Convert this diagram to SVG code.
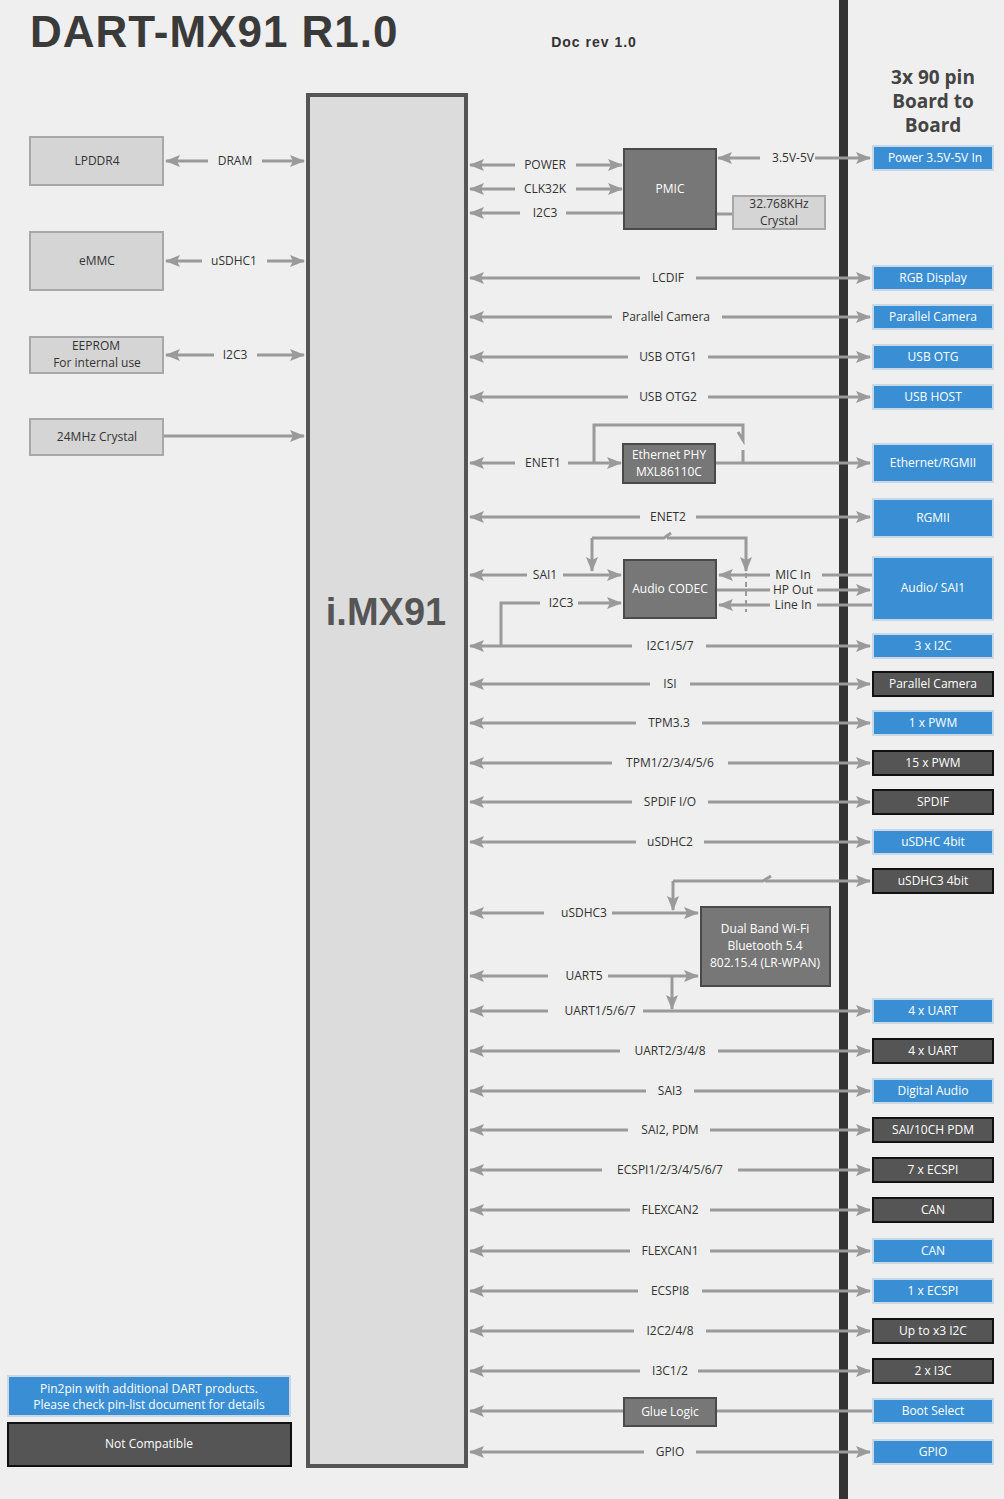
<svg xmlns="http://www.w3.org/2000/svg" width="1004" height="1499" viewBox="0 0 1004 1499">
<style>
text{font-family:"Open Sans","Liberation Sans",sans-serif;font-size:12px;text-anchor:middle;fill:#333}
.w{fill:#fff}
.c{stroke:#9a9a9a;stroke-width:3;fill:none}
.a{marker-end:url(#ar)}
.b{fill:#3a8fd4;stroke:#c8d8e8;stroke-width:2}
.d{fill:#555;stroke:#111;stroke-width:2}
.g{fill:#d5d5d5;stroke:#a8a8a8;stroke-width:2}
.m{fill:#777;stroke:#4a4a4a;stroke-width:2}
</style>
<defs>
<marker id="ar" markerUnits="userSpaceOnUse" markerWidth="16" markerHeight="14" refX="14" refY="7" orient="auto"><path d="M0,1 L15,7 L0,13 L3,7 Z" fill="#9a9a9a"/></marker>
</defs>
<rect width="1004" height="1499" fill="#efefef"/>
<rect x="839" y="0" width="9" height="1499" fill="#333"/>
<text x="30" y="47" style="font-family:'Liberation Sans',sans-serif;font-size:44px;font-weight:bold;text-anchor:start;fill:#3a3a3a;letter-spacing:1px">DART-MX91 R1.0</text>
<text x="594" y="47" style="font-family:'Liberation Sans',sans-serif;font-size:14px;font-weight:bold;letter-spacing:1px">Doc rev 1.0</text>
<g style="font-size:19px;font-weight:bold"><text x="933" y="84" style="font-size:19px;font-weight:bold;fill:#444">3x 90 pin</text><text x="933" y="108" style="font-size:19px;font-weight:bold;fill:#444">Board to</text><text x="933" y="132" style="font-size:19px;font-weight:bold;fill:#444">Board</text></g>
<g id="imx91"><rect x="308" y="95" width="158" height="1371" fill="#dcdcdc" stroke="#555" stroke-width="4"/><text x="386" y="625" style="font-family:'Liberation Sans',sans-serif;font-size:38px;font-weight:bold;fill:#555">i.MX91</text></g>

<g id="connectors">
<path class="c a" d="M208,161H166"/><path class="c a" d="M262,161H304"/>
<path class="c a" d="M202,261H166"/><path class="c a" d="M267,261H304"/>
<path class="c a" d="M214,355H166"/><path class="c a" d="M257,355H304"/>
<path class="c a" d="M163,436H304"/>
<path class="c a" d="M515,165H470"/><path class="c a" d="M576,165H622"/>
<path class="c a" d="M515,189H470"/><path class="c a" d="M576,189H622"/>
<path class="c a" d="M520,213H470"/><path class="c" d="M566,213H624"/>
<path class="c a" d="M760,158H718"/><path class="c a" d="M815,158H870"/>
<path class="c" d="M716,214H733"/>
<path class="c a" d="M640,278H470"/><path class="c a" d="M696,278H870"/>
<path class="c a" d="M612,317H470"/><path class="c a" d="M722,317H870"/>
<path class="c a" d="M628,357H470"/><path class="c a" d="M708,357H870"/>
<path class="c a" d="M628,397H470"/><path class="c a" d="M708,397H870"/>
<path class="c a" d="M515,463H470"/><path class="c a" d="M568,463H621"/>
<path class="c" d="M594,463V425H743V440L738,432M743,450V463"/>
<path class="c a" d="M715,463H870"/>
<path class="c a" d="M640,517H470"/><path class="c a" d="M696,517H870"/>
<path class="c a" d="M592,538V571"/><path class="c" d="M592,538H664L671,533"/><path class="c a" d="M667,538H746V571"/>
<path d="M746,573V612" stroke="#9a9a9a" stroke-width="2" stroke-dasharray="5,4" fill="none"/>
<path class="c a" d="M527,575H470"/><path class="c a" d="M563,575H621"/>
<path class="c" d="M540,603H501V646"/><path class="c a" d="M578,603H621"/>
<path class="c a" d="M770,575H719"/><path class="c" d="M822,575H873"/>
<path class="c" d="M716,590H770"/><path class="c a" d="M817,590H870"/>
<path class="c a" d="M770,605H719"/><path class="c" d="M817,605H873"/>
<path class="c a" d="M632,646H470"/><path class="c a" d="M706,646H870"/>
<path class="c a" d="M650,684H470"/><path class="c a" d="M690,684H870"/>
<path class="c a" d="M636,723H470"/><path class="c a" d="M702,723H870"/>
<path class="c a" d="M612,763H470"/><path class="c a" d="M728,763H870"/>
<path class="c a" d="M632,802H470"/><path class="c a" d="M708,802H870"/>
<path class="c a" d="M636,842H470"/><path class="c a" d="M704,842H870"/>
<path class="c a" d="M673,881V910"/><path class="c" d="M673,881H763L771,876"/><path class="c a" d="M765,881H870"/>
<path class="c a" d="M544,913H470"/><path class="c a" d="M612,913H698"/>
<path class="c a" d="M548,976H470"/><path class="c a" d="M608,976H698"/>
<path class="c a" d="M672,976V1009"/>
<path class="c a" d="M548,1011H470"/><path class="c a" d="M643,1011H870"/>
<path class="c a" d="M620,1051H470"/><path class="c a" d="M718,1051H870"/>
<path class="c a" d="M646,1091H470"/><path class="c a" d="M694,1091H870"/>
<path class="c a" d="M628,1130H470"/><path class="c a" d="M710,1130H870"/>
<path class="c a" d="M602,1170H470"/><path class="c a" d="M738,1170H870"/>
<path class="c a" d="M630,1210H470"/><path class="c a" d="M710,1210H870"/>
<path class="c a" d="M630,1251H470"/><path class="c a" d="M710,1251H870"/>
<path class="c a" d="M638,1291H470"/><path class="c a" d="M702,1291H870"/>
<path class="c a" d="M634,1331H470"/><path class="c a" d="M706,1331H870"/>
<path class="c a" d="M640,1371H470"/><path class="c a" d="M698,1371H870"/>
<path class="c a" d="M624,1411H470"/><path class="c" d="M716,1411H873"/>
<path class="c a" d="M644,1452H470"/><path class="c a" d="M696,1452H870"/>
</g>
<g id="labels">
<text x="235" y="165">DRAM</text><text x="234" y="265">uSDHC1</text><text x="235" y="359">I2C3</text>
<text x="545" y="169">POWER</text><text x="545" y="193">CLK32K</text><text x="545" y="217">I2C3</text><text x="793" y="162">3.5V-5V</text>
<text x="668" y="282">LCDIF</text><text x="666" y="321">Parallel Camera</text><text x="668" y="361">USB OTG1</text><text x="668" y="401">USB OTG2</text>
<text x="543" y="467">ENET1</text><text x="668" y="521">ENET2</text>
<text x="545" y="579">SAI1</text><text x="561" y="607">I2C3</text>
<text x="793" y="579">MIC In</text><text x="793" y="594">HP Out</text><text x="793" y="609">Line In</text>
<text x="670" y="650">I2C1/5/7</text><text x="670" y="688">ISI</text><text x="669" y="727">TPM3.3</text><text x="670" y="767">TPM1/2/3/4/5/6</text>
<text x="670" y="806">SPDIF I/O</text><text x="670" y="846">uSDHC2</text>
<text x="584" y="917">uSDHC3</text><text x="584" y="980">UART5</text><text x="600" y="1015">UART1/5/6/7</text>
<text x="670" y="1055">UART2/3/4/8</text><text x="670" y="1095">SAI3</text><text x="670" y="1134">SAI2, PDM</text>
<text x="670" y="1174">ECSPI1/2/3/4/5/6/7</text><text x="670" y="1214">FLEXCAN2</text><text x="670" y="1255">FLEXCAN1</text>
<text x="670" y="1295">ECSPI8</text><text x="670" y="1335">I2C2/4/8</text><text x="670" y="1375">I3C1/2</text><text x="670" y="1456">GPIO</text>
</g>
<g id="lpddr4"><rect class="g" x="30" y="137" width="133" height="48"/><text x="97" y="165">LPDDR4</text></g>
<g id="emmc"><rect class="g" x="30" y="232" width="133" height="58"/><text x="97" y="265">eMMC</text></g>
<g id="eeprom"><rect class="g" x="30" y="337" width="133" height="36"/><text x="96" y="350">EEPROM</text><text x="97" y="367">For internal use</text></g>
<g id="xtal24"><rect class="g" x="30" y="419" width="133" height="36"/><text x="97" y="441">24MHz Crystal</text></g>
<g id="pmic"><rect class="m" x="624" y="149" width="92" height="80"/><text class="w" x="670" y="193">PMIC</text></g>
<g id="xtal32"><rect class="g" x="733" y="196" width="92" height="33"/><text x="779" y="208">32.768KHz</text><text x="779" y="225">Crystal</text></g>
<g id="ethphy"><rect class="m" x="623" y="444" width="92" height="39"/><text class="w" x="669" y="459">Ethernet PHY</text><text class="w" x="669" y="476">MXL86110C</text></g>
<g id="codec"><rect class="m" x="624" y="560" width="92" height="58"/><text class="w" x="670" y="593">Audio CODEC</text></g>
<g id="wifi"><rect class="m" x="701" y="907" width="129" height="79"/><text class="w" x="765" y="933">Dual Band Wi-Fi</text><text class="w" x="765" y="950">Bluetooth 5.4</text><text class="w" x="765" y="967">802.15.4 (LR-WPAN)</text></g>
<g id="glue"><rect class="m" x="624" y="1398" width="92" height="28"/><text class="w" x="670" y="1416">Glue Logic</text></g>
<g id="right">
<rect class="b" x="873" y="146" width="120" height="24"/><text class="w" x="935" y="162">Power 3.5V-5V In</text>
<rect class="b" x="873" y="266" width="120" height="24"/><text class="w" x="933" y="282">RGB Display</text>
<rect class="b" x="873" y="305" width="120" height="24"/><text class="w" x="933" y="321">Parallel Camera</text>
<rect class="b" x="873" y="345" width="120" height="24"/><text class="w" x="933" y="361">USB OTG</text>
<rect class="b" x="873" y="385" width="120" height="24"/><text class="w" x="933" y="401">USB HOST</text>
<rect class="b" x="873" y="444" width="120" height="38"/><text class="w" x="933" y="467">Ethernet/RGMII</text>
<rect class="b" x="873" y="499" width="120" height="38"/><text class="w" x="933" y="522">RGMII</text>
<rect class="b" x="873" y="557" width="120" height="63"/><text class="w" x="933" y="592">Audio/ SAI1</text>
<rect class="b" x="873" y="634" width="120" height="24"/><text class="w" x="933" y="650">3 x I2C</text>
<rect class="d" x="873" y="672" width="120" height="24"/><text class="w" x="933" y="688">Parallel Camera</text>
<rect class="b" x="873" y="711" width="120" height="24"/><text class="w" x="933" y="727">1 x PWM</text>
<rect class="d" x="873" y="751" width="120" height="24"/><text class="w" x="933" y="767">15 x PWM</text>
<rect class="d" x="873" y="790" width="120" height="24"/><text class="w" x="933" y="806">SPDIF</text>
<rect class="b" x="873" y="830" width="120" height="24"/><text class="w" x="933" y="846">uSDHC 4bit</text>
<rect class="d" x="873" y="869" width="120" height="24"/><text class="w" x="933" y="885">uSDHC3 4bit</text>
<rect class="b" x="873" y="999" width="120" height="24"/><text class="w" x="933" y="1015">4 x UART</text>
<rect class="d" x="873" y="1039" width="120" height="24"/><text class="w" x="933" y="1055">4 x UART</text>
<rect class="b" x="873" y="1079" width="120" height="24"/><text class="w" x="933" y="1095">Digital Audio</text>
<rect class="d" x="873" y="1118" width="120" height="24"/><text class="w" x="933" y="1134">SAI/10CH PDM</text>
<rect class="d" x="873" y="1158" width="120" height="24"/><text class="w" x="933" y="1174">7 x ECSPI</text>
<rect class="d" x="873" y="1198" width="120" height="24"/><text class="w" x="933" y="1214">CAN</text>
<rect class="b" x="873" y="1239" width="120" height="24"/><text class="w" x="933" y="1255">CAN</text>
<rect class="b" x="873" y="1279" width="120" height="24"/><text class="w" x="933" y="1295">1 x ECSPI</text>
<rect class="d" x="873" y="1319" width="120" height="24"/><text class="w" x="933" y="1335">Up to x3 I2C</text>
<rect class="d" x="873" y="1359" width="120" height="24"/><text class="w" x="933" y="1375">2 x I3C</text>
<rect class="b" x="873" y="1399" width="120" height="24"/><text class="w" x="933" y="1415">Boot Select</text>
<rect class="b" x="873" y="1440" width="120" height="24"/><text class="w" x="933" y="1456">GPIO</text>
</g>
<g id="legend">
<rect class="b" x="8" y="1376" width="282" height="40"/><text class="w" x="149" y="1393">Pin2pin with additional DART products.</text><text class="w" x="149" y="1409">Please check pin-list document for details</text>
<rect class="d" x="8" y="1423" width="283" height="43"/><text class="w" x="149" y="1448">Not Compatible</text>
</g>
</svg>
